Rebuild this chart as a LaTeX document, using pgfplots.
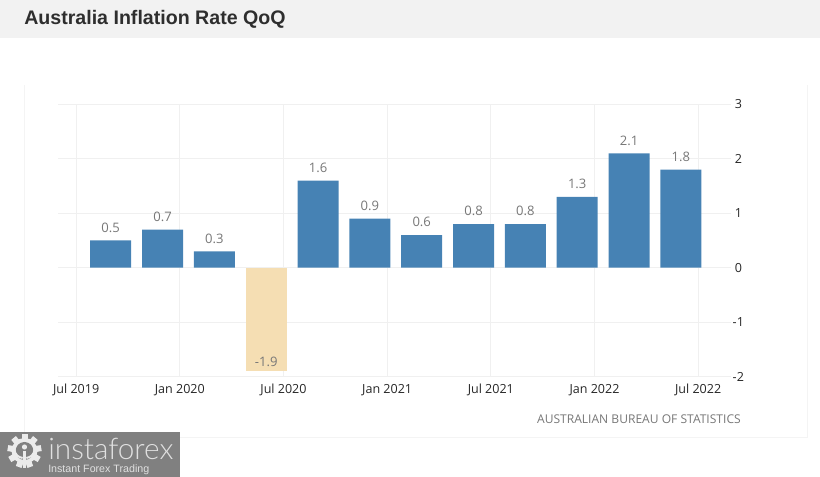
\documentclass[border=0pt]{standalone}
\usepackage{fontspec}
\setmainfont{Open Sans}
\newfontfamily\titlefont{Liberation Sans}
\newfontfamily\logofont{Lato Light}
\usepackage{pgfplots}
\pgfplotsset{compat=1.18}
\definecolor{barblue}{HTML}{4682B4}
\definecolor{barwheat}{HTML}{F5DEB3}
\definecolor{gridgray}{HTML}{F0F0F0}
\definecolor{headgray}{HTML}{F2F2F2}
\definecolor{boxgray}{HTML}{F4F4F4}
\definecolor{labelgray}{HTML}{777777}
\definecolor{markgray}{HTML}{808080}
% months since Jul 2019; bars sit on the end of each quarter
\begin{document}
\begin{tikzpicture}
\path[use as bounding box] (0,0) rectangle (615pt,357.75pt);
\begin{scope}[x=0.75pt,y=-0.75pt,yshift=357.75pt]
\fill[headgray] (0,0) rectangle (820,38);
\draw[boxgray,line width=0.75pt] (24,85) -- (24,438) -- (807,438) -- (807,85);
\node[anchor=west,inner sep=0pt,text=black!82] at (24,19) {\titlefont\fontsize{14.7}{16}\selectfont\bfseries Australia Inflation Rate QoQ};
\node[anchor=east,inner sep=0pt,text=labelgray] at (741,419.5) {\fontsize{9.05}{10}\selectfont AUSTRALIAN BUREAU OF STATISTICS};
\end{scope}

\begin{axis}[
    at={(43.5pt,75.4pt)},
    anchor=south west,
    scale only axis,
    width=504.75pt,
    height=204pt,
    xmin=-1.05, xmax=37.9,
    ymin=-2, ymax=3,
    xtick={0,6,...,36},
    xticklabels={Jul 2019,Jan 2020,Jul 2020,Jan 2021,Jul 2021,Jan 2022,Jul 2022},
    ytick={-2,-1,...,3},
    yticklabel pos=right,
    grid=both,
    grid style={gridgray,line width=0.75pt},
    axis line style={draw=none},
    tick style={draw=none},
    /pgf/number format/assume math mode=true,
    ticklabel style={font=\fontsize{9.4}{10}\selectfont,text=black!85},
    yticklabel style={anchor=center,xshift=5.5pt},
    xticklabel style={yshift=2pt},
    ybar=0pt,
    bar shift=0pt,
    bar width=30.75pt,
    nodes near coords,
    point meta=y,
    nodes near coords style={
        font=\fontsize{9.8}{10}\selectfont,
        text=labelgray,
        yshift=2.5pt,
        /pgf/number format/fixed,
        /pgf/number format/fixed zerofill,
        /pgf/number format/precision=1,
    },
]
\addplot[draw=none,fill=barblue] coordinates {
    (2,0.5) (5,0.7) (8,0.3)
    (14,1.6) (17,0.9) (20,0.6) (23,0.8) (26,0.8) (29,1.3) (32,2.1) (35,1.8)
};
\addplot[draw=none,fill=barwheat,nodes near coords style={anchor=south,yshift=-2.5pt}] coordinates {
    (11,-1.9)
};
\end{axis}

\begin{scope}[x=0.75pt,y=-0.75pt,yshift=357.75pt]
\fill[markgray] (0,432) rectangle (180,477);
% gear of the logo
\fill[white!92!black] (24.5,451) circle (13);
\foreach \a in {0,40,...,320}
    \fill[white!92!black,rotate around={\a:(24.5,451)}] (21.5,434) rectangle (27.5,442);
\fill[markgray] (24.5,451) circle (9);
\fill[white!92!black] (24.5,447) circle (2.6);
\fill[white!92!black] (22.6,451) rectangle (26.4,468);
\fill[white!92!black] (14.5,447) circle (2);
\fill[white!92!black] (34.5,447) circle (2);
\draw[white!92!black,line width=1.5pt] (14.5,449) .. controls (15,456) and (19,457) .. (22.6,458);
\draw[white!92!black,line width=1.5pt] (34.5,449) .. controls (34,456) and (30,457) .. (26.4,458);
\node[anchor=base west,inner sep=0pt,text=white!88!black] at (48,460) {\logofont\fontsize{22.3}{23}\selectfont instaforex};
\node[anchor=base west,inner sep=0pt,text=white!88!black] at (48,473) {\titlefont\fontsize{8}{9}\selectfont Instant Forex Trading};
\end{scope}
\end{tikzpicture}
\end{document}
